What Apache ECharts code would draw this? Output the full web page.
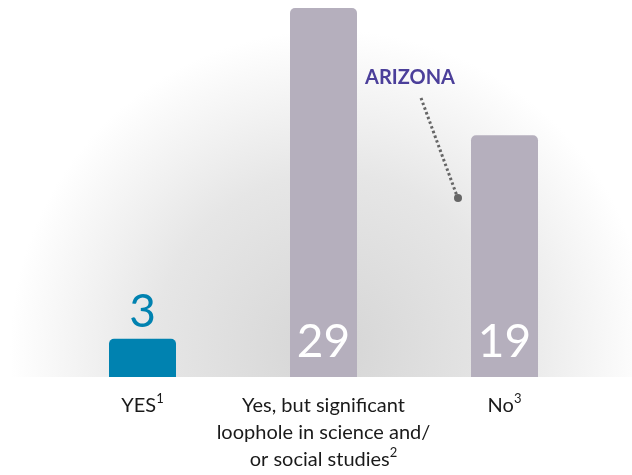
<!DOCTYPE html>
<html>
<head>
<meta charset="utf-8">
<script src="https://cdn.jsdelivr.net/npm/echarts@6/dist/echarts.min.js"></script>
<style>
  html, body { margin: 0; padding: 0; background: #fff; }
  #chart { width: 632px; height: 475px; }
</style>
</head>
<body>
<div id="chart"></div>
<script>
const categories = ['YES{s|1}', 'Yes, but significant\nloophole in science and/\nor social studies{s|2}', 'No{s|3}'];
const counts = [3, 29, 19];
const barColors = ['#0082b0', '#b5afbd', '#b5afbd'];

const chart = echarts.init(document.getElementById('chart'));
const font = 'Lato, "Open Sans", sans-serif';

chart.setOption({
  backgroundColor: '#fff',
  animation: false,
  grid: { left: 52, right: 37, top: 8, bottom: 98 },
  graphic: [
    // soft grey glow behind the bars, cut at the baseline
    { type: 'rect', z: -10, silent: true,
      shape: { x: 0, y: 0, width: 632, height: 377 },
      style: { fill: new echarts.graphic.RadialGradient(330, 350, 320, [
        { offset: 0, color: '#d5d5d5' },
        { offset: 0.55, color: '#e6e6e6' },
        { offset: 1, color: '#ffffff' }
      ], true) } },
    { type: 'text', left: 365, top: 68, z: 10,
      style: { text: 'ARIZONA', fill: '#4b3f9a', font: 'bold 20px ' + font } },
    { type: 'line', z: 10,
      shape: { x1: 421, y1: 98, x2: 457, y2: 196 },
      style: { stroke: '#666', lineWidth: 3, lineDash: [2.5, 2.5] } },
    { type: 'circle', z: 10, shape: { cx: 458, cy: 198, r: 4 }, style: { fill: '#666' } }
  ],
  xAxis: {
    type: 'category',
    data: categories,
    axisLine: { show: false },
    axisTick: { show: false },
    axisLabel: {
      interval: 0,
      margin: 15,
      color: '#1a1a1a',
      fontFamily: font,
      fontSize: 20,
      lineHeight: 27,
      rich: {
        s: { fontSize: 13, fontFamily: font, color: '#1a1a1a', verticalAlign: 'top', lineHeight: 27 }
      }
    }
  },
  yAxis: { type: 'value', min: 0, max: 29, show: false, splitLine: { show: false } },
  series: [{
    type: 'bar',
    barWidth: 67,
    data: counts.map((v, i) => ({
      value: v,
      itemStyle: { color: barColors[i], borderRadius: [5, 5, 0, 0] },
      label: i === 0
        ? { show: true, position: 'top', distance: 4, color: '#0082b0' }
        : { show: true, position: 'insideBottom', distance: 12, color: '#fff' }
    })),
    label: { fontFamily: font, fontSize: 46, fontWeight: 'normal' }
  }]
});
</script>
</body>
</html>
